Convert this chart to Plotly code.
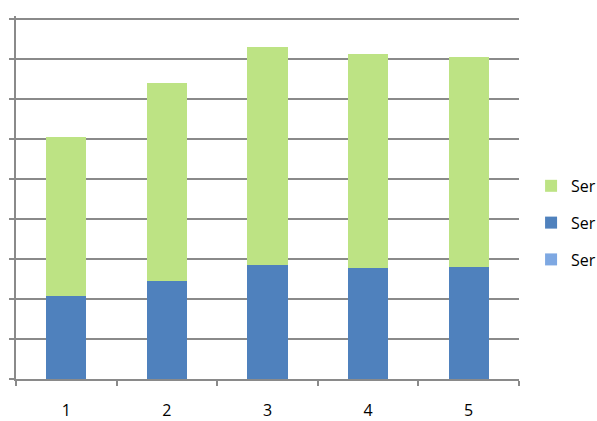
import plotly.graph_objects as go

categories = ["1", "2", "3", "4", "5"]
series_names = ["Ser", "Ser", "Ser"]
light_blue_vals = [0, 0, 0, 0, 0]
blue_vals = [2.08, 2.46, 2.85, 2.78, 2.81]
green_vals = [3.97, 4.94, 5.44, 5.35, 5.25]

colors = ["#7ea8e2", "#4f81bd", "#bde384"]
ranks = [3, 2, 1]

fig = go.Figure()
for i, (name, vals, col) in enumerate(zip(series_names,
                                          [light_blue_vals, blue_vals, green_vals],
                                          colors)):
    fig.add_trace(go.Bar(
        x=categories, y=vals, name=name, legendgroup=f"g{i}", legendrank=ranks[i],
        marker=dict(color=col, line=dict(width=0)),
    ))

grid_col = "#8a8a8a"
fig.update_layout(
    barmode="stack",
    bargap=0.6,
    width=597, height=421,
    margin=dict(l=16, r=78, t=16, b=42, autoexpand=False),
    plot_bgcolor="white", paper_bgcolor="white",
    font=dict(family="Open Sans, Liberation Sans, sans-serif", size=16, color="#000000"),
    legend=dict(
        traceorder="grouped",
        tracegroupgap=13,
        x=1.024, xanchor="left", y=0.43, yanchor="middle",
        font=dict(size=16),
        itemwidth=30,
    ),
    xaxis=dict(
        type="category", automargin=False,
        showline=True, linecolor=grid_col, linewidth=2,
        ticks="outside", tickson="boundaries", ticklen=5, tickcolor=grid_col, tickwidth=2,
        showgrid=False,
        ticklabelstandoff=16,
    ),
    yaxis=dict(
        range=[0, 9.075], dtick=1, automargin=False,
        showgrid=True, gridcolor=grid_col, gridwidth=2,
        showline=True, linecolor=grid_col, linewidth=2,
        ticks="outside", ticklen=5, tickcolor=grid_col, tickwidth=2,
        showticklabels=False, zeroline=False,
    ),
)

fig.write_html(
    "out.html",
    config={"displayModeBar": False},
    post_script="document.body.style.margin='0';document.documentElement.style.overflow='hidden';",
)
